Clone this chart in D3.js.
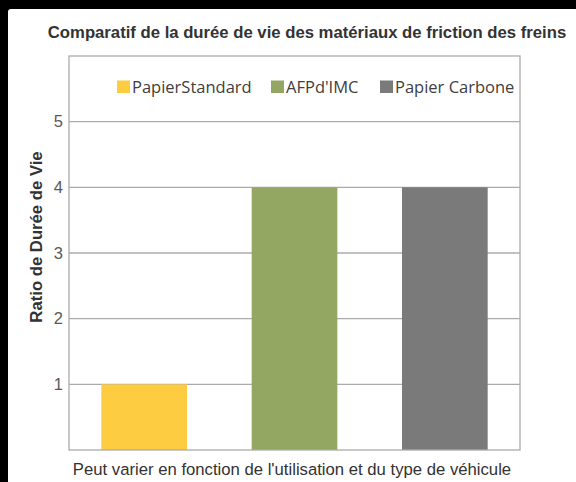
<!DOCTYPE html>
<html>
<head>
<meta charset="utf-8">
<script src="https://cdn.jsdelivr.net/npm/d3@7"></script>
<style>
  body { margin: 0; background: #000; }
  svg { display: block; }
</style>
</head>
<body>
<div id="graphique"></div>
<script>
// Donnees
const categories = ["PapierStandard", "AFPd'IMC", "Papier Carbone"];
const valeurs = [1, 4, 4];
const couleurs = ["#FDCC40", "#94A762", "#7A7A7A"];
const ticksY = [1, 2, 3, 4, 5];

const titre = "Comparatif de la durée de vie des matériaux de friction des freins";
const titreY = "Ratio de Durée de Vie";
const titreX = "Peut varier en fonction de l'utilisation et du type de véhicule";

const width = 576;
const height = 482;
const marginTop = 56;
const marginLeft = 69;
const marginRight = 56;
const marginBottom = 32;

const svg = d3.select("#graphique")
  .append("svg")
  .attr("width", width)
  .attr("height", height);

// fond noir + panneau blanc
svg.append("rect")
  .attr("width", width).attr("height", height)
  .attr("fill", "#000");
svg.append("rect")
  .attr("x", 8).attr("y", 9)
  .attr("width", width).attr("height", height)
  .attr("rx", 3)
  .attr("fill", "#fff");

// Echelles
const x = d3.scaleBand()
  .domain(categories)
  .range([marginLeft, width - marginRight])
  .paddingInner(0.43)
  .paddingOuter(0.215);

const y = d3.scaleLinear()
  .domain([0, 6])
  .range([height - marginBottom, marginTop]);

// grille
svg.append("g")
  .selectAll("line")
  .data(ticksY)
  .join("line")
  .attr("x1", marginLeft)
  .attr("x2", width - marginRight)
  .attr("y1", d => y(d))
  .attr("y2", d => y(d))
  .attr("stroke", "#ababab")
  .attr("stroke-width", 1.3);

// axe Y (etiquettes seulement)
const yAxis = d3.axisLeft(y)
  .tickValues(ticksY)
  .tickFormat(d3.format("d"))
  .tickSize(0)
  .tickPadding(6);
svg.append("g")
  .attr("transform", `translate(${marginLeft},0)`)
  .call(yAxis)
  .call(g => g.select(".domain").remove())
  .selectAll("text")
  .attr("fill", "#595959")
  .style("font", "16.5px 'Liberation Sans', Arial, sans-serif");

// barres
svg.append("g")
  .selectAll("rect")
  .data(valeurs)
  .join("rect")
  .attr("x", (d, i) => x(categories[i]))
  .attr("width", x.bandwidth())
  .attr("y", d => y(d))
  .attr("height", d => y(0) - y(d))
  .attr("fill", (d, i) => couleurs[i]);

// cadre
svg.append("rect")
  .attr("x", marginLeft)
  .attr("y", marginTop)
  .attr("width", width - marginRight - marginLeft)
  .attr("height", height - marginBottom - marginTop)
  .attr("fill", "none")
  .attr("stroke", "#ababab")
  .attr("stroke-width", 1.3);

// legende
const legendX = [117, 271, 380];
const legende = svg.append("g")
  .selectAll("g")
  .data(categories)
  .join("g")
  .attr("transform", (d, i) => `translate(${legendX[i]},80)`);
legende.append("rect")
  .attr("y", 0.5)
  .attr("width", 13).attr("height", 12.5)
  .attr("fill", (d, i) => couleurs[i]);
legende.append("text")
  .attr("x", 15)
  .attr("y", 12.5)
  .attr("fill", "#404040")
  .style("font", "16.5px 'Open Sans', sans-serif")
  .text(d => d);

// titres
svg.append("text")
  .attr("x", 307)
  .attr("y", 38)
  .attr("text-anchor", "middle")
  .attr("fill", "#333")
  .style("font", "bold 16.7px 'Liberation Sans', Arial, sans-serif")
  .text(titre);

svg.append("text")
  .attr("transform", "translate(42,237) rotate(-90)")
  .attr("text-anchor", "middle")
  .attr("fill", "#333")
  .style("font", "bold 16.7px 'Liberation Sans', Arial, sans-serif")
  .text(titreY);

svg.append("text")
  .attr("x", 292)
  .attr("y", 474.5)
  .attr("text-anchor", "middle")
  .attr("fill", "#333")
  .style("font", "16.7px 'Liberation Sans', Arial, sans-serif")
  .text(titreX);
</script>
</body>
</html>
